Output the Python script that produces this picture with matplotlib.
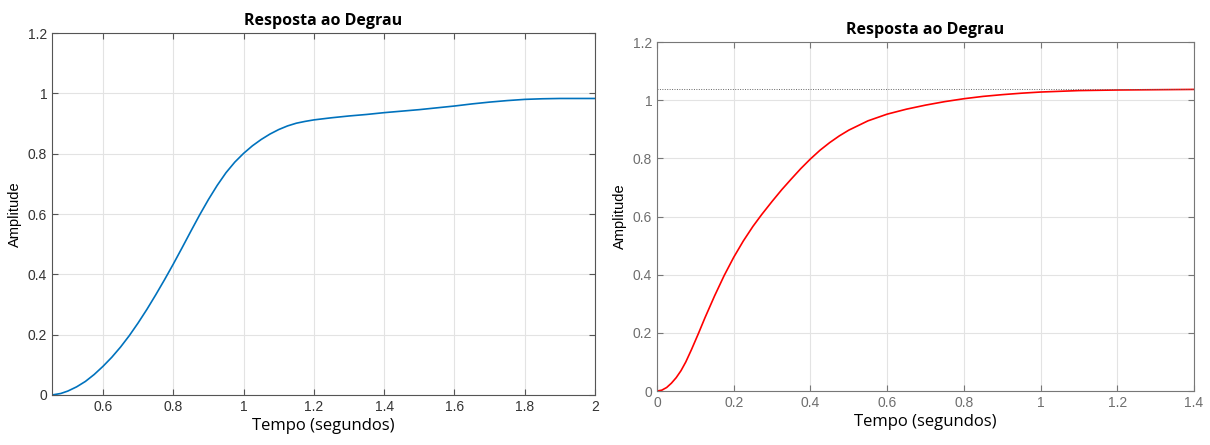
import matplotlib.pyplot as plt

# resposta 1 (azul)
t1 = [0.455, 0.48, 0.5, 0.525, 0.55, 0.575, 0.6, 0.625, 0.65, 0.675, 0.7, 0.725,
      0.75, 0.775, 0.8, 0.825, 0.85, 0.875, 0.9, 0.925, 0.95, 0.975, 1.0, 1.025,
      1.05, 1.075, 1.1, 1.125, 1.15, 1.175, 1.2, 1.25, 1.3, 1.35, 1.4, 1.45,
      1.5, 1.55, 1.6, 1.65, 1.7, 1.75, 1.8, 1.85, 1.9, 2.0]
y1 = [0.0, 0.005, 0.013, 0.027, 0.045, 0.068, 0.095, 0.125, 0.159, 0.197, 0.239, 0.284,
      0.332, 0.382, 0.434, 0.488, 0.543, 0.597, 0.648, 0.695, 0.737, 0.772, 0.801, 0.826,
      0.847, 0.865, 0.88, 0.892, 0.901, 0.907, 0.912, 0.919, 0.925, 0.93, 0.936, 0.941,
      0.946, 0.952, 0.958, 0.965, 0.971, 0.976, 0.98, 0.982, 0.983, 0.983]

# resposta 2 (vermelha)
t2 = [0.0, 0.0125, 0.025, 0.0375, 0.05, 0.0625, 0.075, 0.09, 0.108, 0.125, 0.15,
      0.175, 0.2, 0.225, 0.25, 0.273, 0.3, 0.325, 0.35, 0.375, 0.4, 0.425, 0.45,
      0.475, 0.5, 0.55, 0.6, 0.65, 0.7, 0.75, 0.8, 0.85, 0.9, 0.95, 1.0, 1.1,
      1.2, 1.3, 1.4]
y2 = [0.0, 0.003, 0.012, 0.027, 0.046, 0.07, 0.1, 0.143, 0.198, 0.252, 0.327,
      0.397, 0.46, 0.516, 0.566, 0.607, 0.652, 0.692, 0.729, 0.765, 0.798, 0.828, 0.854,
      0.877, 0.897, 0.929, 0.952, 0.969, 0.983, 0.995, 1.005, 1.013, 1.019, 1.024, 1.028, 1.033,
      1.035, 1.036, 1.037]
final2 = 1.037

title = "Resposta ao Degrau"
xlabel = "Tempo (segundos)"
ylabel = "Amplitude"

fig = plt.figure(figsize=(12.1, 4.45), dpi=100)
ax1 = fig.add_axes([0.043, 0.1124, 0.4488, 0.8134])
ax2 = fig.add_axes([0.543, 0.1213, 0.4438, 0.7843])


def style(ax, edge, tickcol):
    ax.grid(True, color="#e3e3e3", linewidth=0.8)
    ax.set_axisbelow(True)
    for s in ax.spines.values():
        s.set_color(edge)
        s.set_linewidth(0.8)
    ax.tick_params(direction="in", length=4, width=0.8, color=edge,
                   labelcolor=tickcol, labelsize=10, top=True, right=True,
                   labelfontfamily="Liberation Sans")
    ax.set_title(title, fontsize=11.5, fontweight="bold", family="Open Sans", pad=6)
    ax.set_xlabel(xlabel, fontsize=12, family="Open Sans", labelpad=3)
    ax.set_ylabel(ylabel, fontsize=10.5, family="Liberation Sans", labelpad=4)
    ax.set_yticks([0, 0.2, 0.4, 0.6, 0.8, 1, 1.2])
    ax.set_yticklabels(["0", "0.2", "0.4", "0.6", "0.8", "1", "1.2"])
    ax.set_ylim(0, 1.2)


ax1.plot(t1, y1, color="#0072BD", linewidth=1.2)
ax1.set_xlim(0.455, 2)
ax1.set_xticks([0.6, 0.8, 1, 1.2, 1.4, 1.6, 1.8, 2])
ax1.set_xticklabels(["0.6", "0.8", "1", "1.2", "1.4", "1.6", "1.8", "2"])
style(ax1, "#555555", "#333333")

ax2.plot(t2, y2, color="#ff0000", linewidth=1.2)
ax2.axhline(final2, color="#666666", linestyle=(0, (1, 1.5)), linewidth=0.7)
ax2.set_xlim(0, 1.4)
ax2.set_xticks([0, 0.2, 0.4, 0.6, 0.8, 1, 1.2, 1.4])
ax2.set_xticklabels(["0", "0.2", "0.4", "0.6", "0.8", "1", "1.2", "1.4"])
style(ax2, "#777777", "#6e6e6e")

fig.savefig("out.png", dpi=100)
